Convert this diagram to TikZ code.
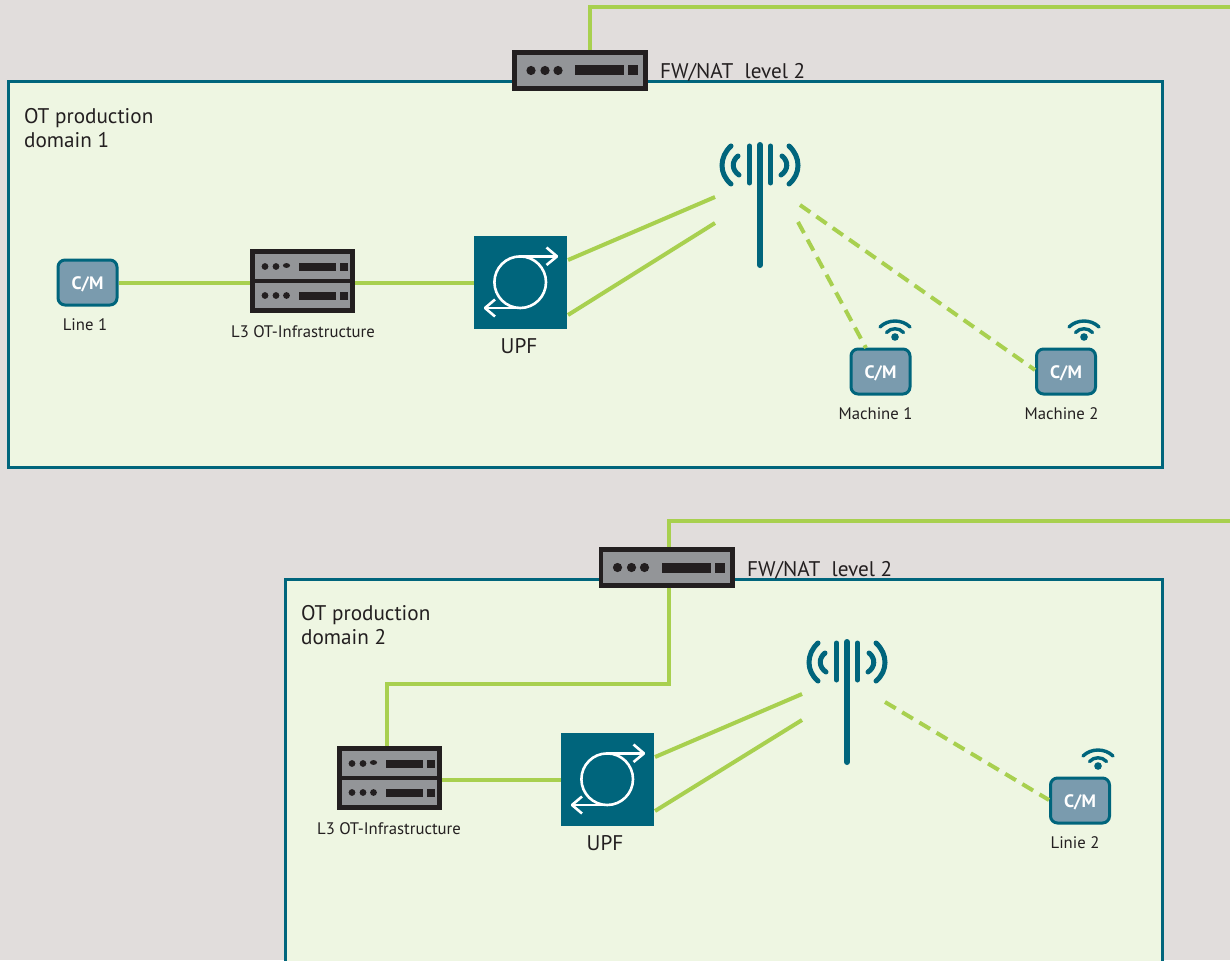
\documentclass[tikz,border=0pt]{standalone}
\usepackage{fontspec}
\setmainfont{PT Sans}
\definecolor{bgc}{HTML}{E1DDDC}
\definecolor{domc}{HTML}{EEF6E2}
\definecolor{teal}{HTML}{00657C}
\definecolor{grn}{HTML}{A8D04F}
\definecolor{blk}{HTML}{231F20}
\definecolor{gry}{HTML}{939598}
\definecolor{cmc}{HTML}{7A9BAE}
\tikzset{
  x=1pt,y=-1pt,
  domainbox/.style={draw=teal,fill=domc,line width=3pt,inner sep=0pt,outer sep=0pt},
  link/.style={draw=grn,line width=4pt},
  radio/.style={draw=grn,line width=4pt,dash pattern=on 12.5pt off 7.5pt},
  unitbox/.style={draw=blk,fill=gry,line width=4.6pt,inner sep=0pt,outer sep=2.3pt,minimum width=#1},
  solidb/.style={fill=blk},
  upfbox/.style={fill=teal,minimum width=93pt,minimum height=93pt,inner sep=0pt,outer sep=0pt},
  cmbox/.style={draw=teal,fill=cmc,line width=3pt,rounded corners=7pt,minimum width=59pt,minimum height=45pt,inner sep=0pt,outer sep=1.5pt,text=white,text height=13pt,text depth=0pt,font=\fontsize{18}{20}\selectfont\bfseries},
  smalllabel/.style={font=\fontsize{16.7}{18}\selectfont,text=blk,inner sep=0pt},
  biglabel/.style={font=\fontsize{21.2}{24}\selectfont,text=blk,inner sep=0pt},
  upfline/.style={draw=white,line width=2.6pt},
  aerial/.style={draw=teal,line width=6pt,line cap=round},
  aerialarc/.style={draw=teal,line width=5pt,line cap=round},
  wifiarc/.style={draw=teal,line width=3.4pt,line cap=round},
}
% #1 name, #2 cx, #3 cy
\newcommand\fwdevice[3]{%
  \node[unitbox=131.4pt,minimum height=36pt] (#1) at (#2,#3) {};
  \begin{scope}[shift={(#2,#3)}]
    \foreach \dx in {-49,-35,-22}{\fill[solidb] (\dx,0) circle (4.6);}
    \fill[solidb] (-5,-5) rectangle (44,5);
    \fill[solidb] (48,-5) rectangle (58,5);
  \end{scope}}
% #1 name, #2 cx, #3 cy
\newcommand\serverdevice[3]{%
  \node[unitbox=100.4pt,minimum height=29.4pt] (#1top) at (#2,#3-14.7) {};
  \node[unitbox=100.4pt,minimum height=29.4pt] (#1bot) at (#2,#3+14.7) {};
  \coordinate (#1) at (#2,#3);
  \begin{scope}[shift={(#2,#3)}]
    \foreach \dx/\ry in {-37.5/-14.5,-26.5/-14.5}{\fill[solidb] (\dx,\ry) circle (3.4);}
    \fill[solidb] (-16,-15.5) ellipse (3.6 and 2.4);
    \foreach \dx in {-37.5,-26.5,-16}{\fill[solidb] (\dx,14.5) circle (3.4);}
    \fill[solidb] (-3.5,-18.5) rectangle (33.5,-10.5);
    \fill[solidb] (37.5,-18.5) rectangle (45.5,-10.5);
    \fill[solidb] (-3.5,10.5) rectangle (33.5,18.5);
    \fill[solidb] (37.5,10.5) rectangle (45.5,18.5);
  \end{scope}}
% #1 name, #2 cx, #3 cy
\newcommand\upfdevice[3]{%
  \node[upfbox] (#1) at (#2,#3) {};
  \begin{scope}[shift={(#2,#3)}]
    \draw[upfline] (-0.3,-0.3) circle (25.8);
    \draw[upfline] (-1,-26.1) -- (36.5,-26.1);
    \draw[upfline,line join=bevel] (26,-35) -- (36.5,-26.1) -- (26,-17.5);
    \draw[upfline] (0,25.5) -- (-35,25.5);
    \draw[upfline,line join=bevel] (-25.5,17) -- (-35.5,25.5) -- (-25.5,34);
  \end{scope}}
% #1 name, #2 cx, #3 top y
\newcommand\antenna[3]{%
  \begin{scope}[shift={(#2,#3)}]
    \coordinate (#1) at (0,0);
    \draw[aerial] (0,0) -- (0,120);
    \draw[aerialarc] (-10.5,1) -- (-10.5,38);
    \draw[aerialarc] (10.5,1) -- (10.5,38);
    \draw[aerialarc] (-29,1) .. controls (-41,12) and (-41,29) .. (-29,39);
    \draw[aerialarc] (29,1) .. controls (41,12) and (41,29) .. (29,39);
    \draw[aerialarc] (-22,11) .. controls (-28.5,16) and (-28.5,25) .. (-21,30);
    \draw[aerialarc] (22,11) .. controls (28.5,16) and (28.5,25) .. (21,30);
  \end{scope}}
% #1 cx, #2 dot cy
\newcommand\wifi[2]{%
  \begin{scope}[shift={(#1,#2)}]
    \fill[teal] (0,0) circle (3.8);
    \draw[wifiarc] (-8.5,-4.5) .. controls (-4,-9.5) and (4,-9.5) .. (8.5,-4.5);
    \draw[wifiarc] (-15,-10) .. controls (-7,-18) and (7,-18) .. (15,-10);
  \end{scope}}
\begin{document}
\begin{tikzpicture}
\clip (0,0) rectangle (1230,960);
\fill[bgc] (0,0) rectangle (1230,960);

% ---------- domain 1
\node[domainbox,minimum width=1154pt,minimum height=385pt] (dom1) at (585,274.5) {};
\coordinate (wan1) at (1230,7);
\coordinate (wan1k) at (590,7);
\fwdevice{fw1}{580}{70.5}
\draw[link,line join=miter] (fw1.north -| wan1k) -- (wan1k) -- (wan1);
\node[biglabel,anchor=base west] (fw1l) at (660,79) {FW/NAT\ \ level 2};
\node[biglabel,anchor=base west,align=left] (d1l) at (24,148) {OT production\\[0pt]domain 1};

\node[cmbox] (line1) at (87.5,282.5) {C/M};
\node[smalllabel] (line1l) at (85,325) {Line 1};
\serverdevice{srv1}{302.5}{281}
\node[smalllabel] (srv1l) at (303,332) {L3 OT-Infrastructure};
\upfdevice{upf1}{520.5}{282.5}
\node[biglabel] (upf1l) at (519,346) {UPF};
\antenna{ant1}{760}{145}
\coordinate (u1a) at (568,260);
\coordinate (u1b) at (568,315);
\coordinate (a1a) at (715,197);
\coordinate (a1b) at (715,223);
\coordinate (a1c) at (800,205);
\coordinate (a1d) at (798,222);
\draw[link] (line1.east) -- (srv1top.south west |- line1.east);
\draw[link] (srv1top.south east |- line1.east) -- (upf1.west |- line1.east);
\draw[link] (u1a) -- (a1a);
\draw[link] (u1b) -- (a1b);
\node[cmbox] (m1) at (880.5,371.5) {C/M};
\wifi{895}{337}
\node[smalllabel] (m1l) at (875.5,414) {Machine 1};
\node[cmbox] (m2) at (1066,371.5) {C/M};
\wifi{1084}{337}
\node[smalllabel] (m2l) at (1061.5,414) {Machine 2};
\coordinate (m1in) at (866,348);
\coordinate (m2in) at (1035,370);
\draw[radio] (a1d) -- (m1in);
\draw[radio] (a1c) -- (m2in);

% ---------- domain 2
\node[domainbox,minimum width=877pt,minimum height=420pt] (dom2) at (723.5,789) {};
\coordinate (wan2) at (1230,521);
\coordinate (wan2k) at (669,521);
\coordinate (d2k1) at (669,684);
\coordinate (d2k2) at (387,684);
\fwdevice{fw2}{666.5}{567.5}
\draw[link,line join=miter] (fw2.north -| wan2k) -- (wan2k) -- (wan2);
\node[biglabel,anchor=base west] (fw2l) at (747,576) {FW/NAT\ \ level 2};
\node[biglabel,anchor=base west,align=left] (d2l) at (301,644) {OT production\\[0pt]domain 2};
\serverdevice{srv2}{389.5}{778}
\draw[link,line join=miter] (fw2.south -| d2k1) -- (d2k1) -- (d2k2) -- (srv2top.north -| d2k2);
\node[smalllabel] (srv2l) at (389,829) {L3 OT-Infrastructure};
\upfdevice{upf2}{607.5}{779.5}
\node[biglabel] (upf2l) at (605,843) {UPF};
\antenna{ant2}{847}{642}
\coordinate (u2a) at (655,757);
\coordinate (u2b) at (655,811);
\coordinate (a2a) at (802,694);
\coordinate (a2b) at (802,720);
\coordinate (a2c) at (885,702);
\draw[link] (srv2top.south east |- upf2.west) -- (upf2.west);
\draw[link] (u2a) -- (a2a);
\draw[link] (u2b) -- (a2b);
\node[cmbox] (l2) at (1080,800.5) {C/M};
\wifi{1098}{766}
\node[smalllabel] (l2l) at (1075,843) {Linie 2};
\coordinate (l2in) at (1049,800);
\draw[radio] (a2c) -- (l2in);
\end{tikzpicture}
\end{document}
